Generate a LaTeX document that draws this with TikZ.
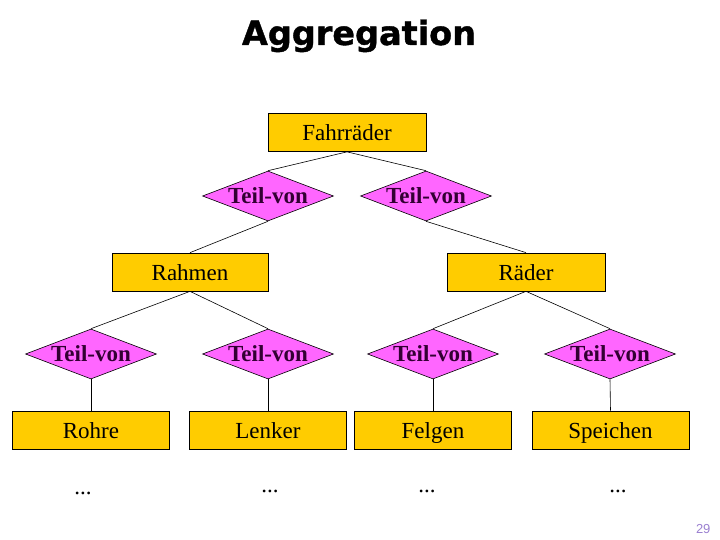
\documentclass[tikz,border=0pt]{standalone}
\usepackage{fontspec}
\setmainfont{Liberation Serif}
\newfontfamily\titlefont[FakeBold=1.2]{DejaVu Sans Bold}
\newfontfamily\pagefont{Liberation Sans}
\usepackage{tikz}
\usetikzlibrary{shapes.geometric}
\definecolor{entitygold}{HTML}{FFCC00}
\definecolor{relpink}{HTML}{FF66FF}
\definecolor{reltext}{HTML}{330033}
\definecolor{pagelila}{HTML}{9A7FD0}
\tikzset{
  entitybox/.style={draw=black,line width=0.7pt,fill=entitygold,minimum width=157pt,
    minimum height=38pt,inner sep=0pt,text height=18.5pt,text depth=2pt,
    font=\fontsize{23}{26}\selectfont},
  relshape/.style={diamond,draw=black,line width=0.6pt,fill=relpink,aspect=2.62,inner sep=0pt,
    minimum width=131pt,minimum height=50pt,text=reltext,font=\fontsize{23}{26}\selectfont\bfseries},
  partline/.style={draw=black,line width=0.6pt},
  moredots/.style={font=\fontsize{23}{26}\selectfont}
}
\begin{document}
\begin{tikzpicture}[x=1pt,y=-1pt]
  \useasboundingbox (0,0) rectangle (720,540);
  % Titel
  \node[anchor=base,font=\titlefont\fontsize{33.5}{36}\selectfont] (titel) at (359,45) {Aggregation};
  % obere Ebene
  \node[entitybox,minimum width=158pt] (fahrraeder) at (347,132.5) {Fahrräder};
  \node[relshape] (teilL) at (268,196) {Teil-von};
  \node[relshape] (teilR) at (426,196) {Teil-von};
  \node[entitybox,minimum width=156pt] (rahmen) at (190,272) {Rahmen};
  \node[entitybox,minimum width=158pt] (raeder) at (526,272) {Räder};
  \draw[partline] (fahrraeder.south) -- (teilL.north);
  \draw[partline] (fahrraeder.south) -- (teilR.north);
  \draw[partline] (teilL.south) -- (rahmen.north);
  \draw[partline] (teilR.south) -- (raeder.north);
  % untere Ebene
  \node[relshape] (teilA) at (91,354) {Teil-von};
  \node[relshape] (teilB) at (268,354) {Teil-von};
  \node[relshape] (teilC) at (433,354) {Teil-von};
  \node[relshape] (teilD) at (610,354) {Teil-von};
  \node[entitybox] (rohre) at (91,430) {Rohre};
  \node[entitybox] (lenker) at (268,430) {Lenker};
  \node[entitybox] (felgen) at (433,430) {Felgen};
  \node[entitybox] (speichen) at (610.5,430) {Speichen};
  \draw[partline] (rahmen.south) -- (teilA.north);
  \draw[partline] (rahmen.south) -- (teilB.north);
  \draw[partline] (raeder.south) -- (teilC.north);
  \draw[partline] (raeder.south) -- (teilD.north);
  \draw[partline] (teilA.south) -- (rohre.north);
  \draw[partline] (teilB.south) -- (lenker.north);
  \draw[partline] (teilC.south) -- (felgen.north);
  \draw[partline] (teilD.south) -- (speichen.north);
  % Fortsetzung
  \node[moredots,anchor=base] (dotsA) at (83,494) {...};
  \node[moredots,anchor=base] (dotsB) at (270,492) {...};
  \node[moredots,anchor=base] (dotsC) at (427,492) {...};
  \node[moredots,anchor=base] (dotsD) at (618,492) {...};
  % Seitenzahl
  \node[anchor=base east,text=pagelila,font=\pagefont\fontsize{13}{15}\selectfont] (seite) at (714,533) {29};
\end{tikzpicture}
\end{document}
